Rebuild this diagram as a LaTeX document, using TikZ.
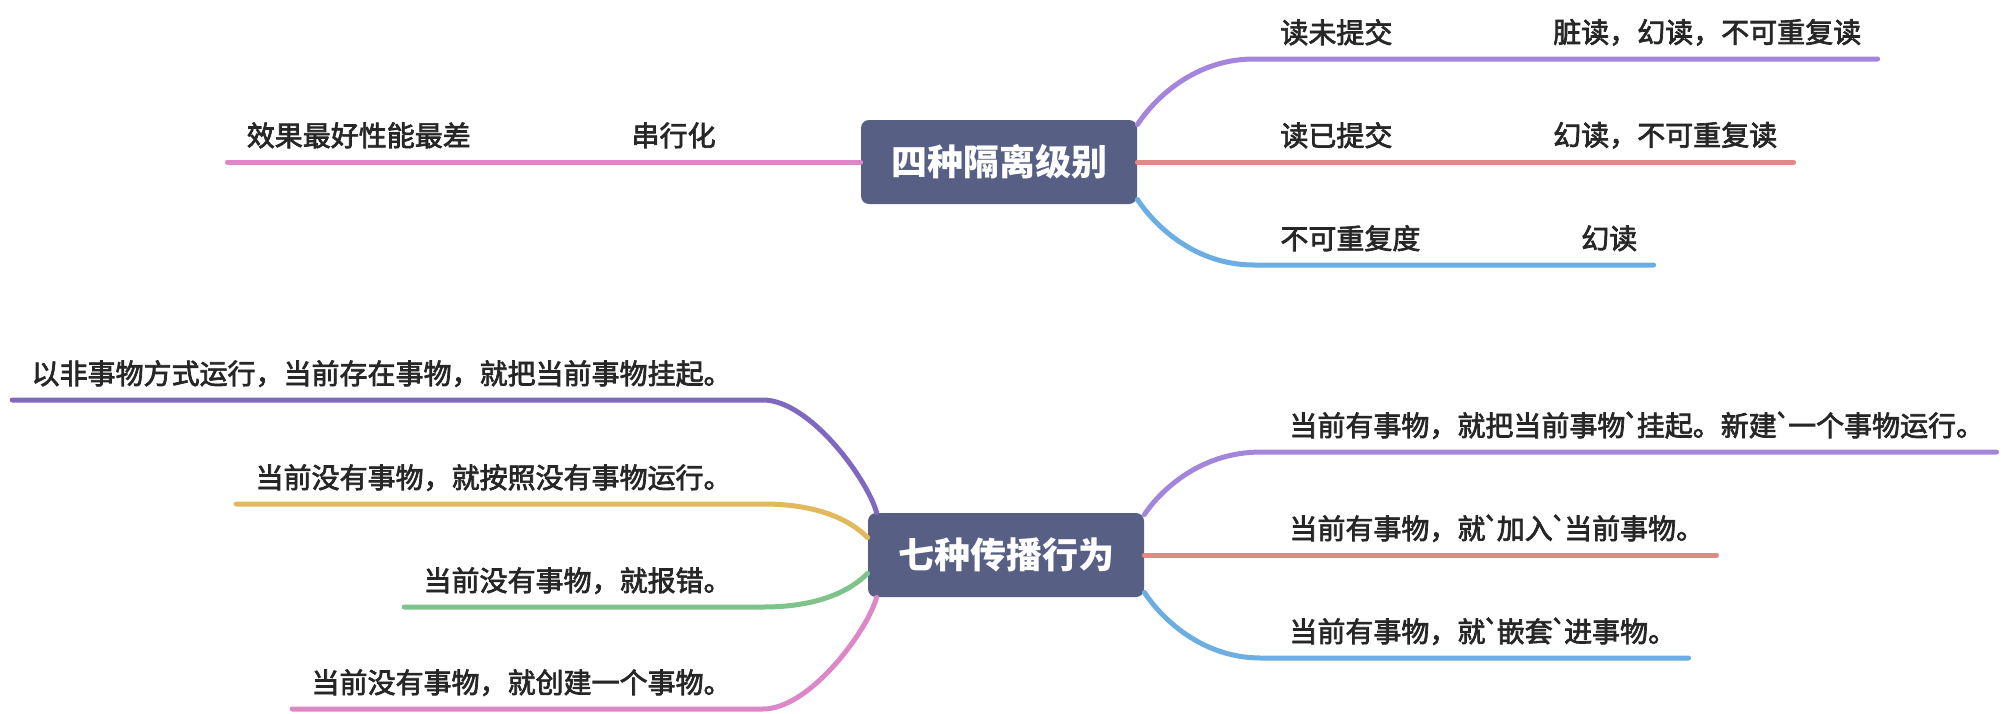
\documentclass[tikz,border=0pt]{standalone}
\usepackage{fontspec}
\setmainfont{Noto Sans CJK SC}
\newfontfamily\lblfont[FakeBold=2.5]{Noto Sans CJK SC}
\usetikzlibrary{positioning}
\definecolor{rootfill}{HTML}{575F85}
\definecolor{labeltext}{HTML}{262626}
\definecolor{brPurple}{HTML}{A385DC}
\definecolor{brRed}{HTML}{E08A87}
\definecolor{brBlue}{HTML}{6BAEE3}
\definecolor{brPink}{HTML}{DD87C8}
\definecolor{brViolet}{HTML}{7F68BF}
\definecolor{brYellow}{HTML}{E1B85C}
\definecolor{brGreen}{HTML}{7DC38A}
\newcommand{\bq}{\kern-0.1em\textasciigrave\kern-0.1em}
\begin{document}
\begin{tikzpicture}[x=0.5pt, y=-0.5pt,
  root/.style={fill=rootfill, rounded corners=4pt, minimum width=138pt, minimum height=42pt,
    text=white, font=\fontsize{18}{20}\selectfont\bfseries},
  lbl/.style={inner sep=0pt, text=labeltext, font=\fontsize{14}{16}\selectfont\lblfont},
  branch/.style={line width=2.5pt, line cap=round},
  node distance=80pt]
  \useasboundingbox (0,0) rectangle (2002,713);
  % isolation levels
  \node[root] (iso) at (999,162) {四种隔离级别};
  \node[lbl, anchor=base west] (ru) at (1280,43) {读未提交};
  \node[lbl, right=of ru] (ruN) {脏读，幻读，不可重复读};
  \node[lbl, anchor=base west] (rc) at (1280,146) {读已提交};
  \node[lbl, right=of rc] (rcN) {幻读，不可重复读};
  \node[lbl, anchor=base west] (nr) at (1280,249) {不可重复度};
  \node[lbl, right=of nr] (nrN) {幻读};
  \node[lbl, anchor=base east] (sr) at (716,146) {串行化};
  \node[lbl, left=of sr] (srN) {效果最好性能最差};
  \coordinate (ruS) at (1254,59);
  \coordinate (nrS) at (1254,265);
  \draw[branch, brPurple] ([yshift=-2.5pt]iso.north east) .. controls +(13,-20) and +(-64,0) .. (ruS) -- ([xshift=8pt]ruN.east |- ruS);
  \draw[branch, brRed] (iso.east) -- ([xshift=8pt]rcN.east |- iso.east);
  \draw[branch, brBlue] ([yshift=2.5pt]iso.south east) .. controls +(13,20) and +(-64,0) .. (nrS) -- ([xshift=8pt]nrN.east |- nrS);
  \draw[branch, brPink] (iso.west) -- ([xshift=-9.5pt]srN.west |- iso.west);
  % propagation
  \node[root] (prop) at (1006,555) {七种传播行为};
  \node[lbl, anchor=base west] (rqn) at (1289,436) {当前有事物，就把当前事物\bq 挂起。新建\bq 一个事物运行。};
  \node[lbl, anchor=base west] (req) at (1289,539) {当前有事物，就\bq 加入\bq 当前事物。};
  \node[lbl, anchor=base west] (nst) at (1289,642) {当前有事物，就\bq 嵌套\bq 进事物。};
  \node[lbl, anchor=base east] (nsp) at (732,384) {以非事物方式运行，当前存在事物，就把当前事物挂起。};
  \node[lbl, anchor=base east] (sup) at (732,488) {当前没有事物，就按照没有事物运行。};
  \node[lbl, anchor=base east] (mnd) at (732,591) {当前没有事物，就报错。};
  \node[lbl, anchor=base east] (new) at (732,693) {当前没有事物，就创建一个事物。};
  \coordinate (rqnS) at (1261,452);
  \coordinate (nstS) at (1261,658);
  \coordinate (nspS) at (763,400);
  \coordinate (supS) at (763,504);
  \coordinate (mndS) at (763,607);
  \coordinate (newS) at (763,709);
  \draw[branch, brPurple] ([yshift=-1pt]prop.north east) .. controls +(13,-20) and +(-64,0) .. (rqnS) -- ([xshift=6pt]rqn.east |- rqnS);
  \draw[branch, brRed] (prop.east) -- ([xshift=6pt]req.east |- prop.east);
  \draw[branch, brBlue] ([yshift=2.5pt]prop.south east) .. controls +(13,20) and +(-64,0) .. (nstS) -- ([xshift=6pt]nst.east |- nstS);
  \draw[branch, brViolet] ([xshift=4.5pt]prop.north west) .. controls +(-9,-33) and +(47,0) .. (nspS) -- ([xshift=-9.5pt]nsp.west |- nspS);
  \draw[branch, brYellow] ([yshift=-12.5pt]prop.north west) .. controls +(-25,-25) and +(40,0) .. (supS) -- ([xshift=-9.5pt]sup.west |- supS);
  \draw[branch, brGreen] ([yshift=12pt]prop.south west) .. controls +(-25,25) and +(40,0) .. (mndS) -- ([xshift=-9.5pt]mnd.west |- mndS);
  \draw[branch, brPink] ([xshift=4.5pt]prop.south west) .. controls +(-9,33) and +(47,0) .. (newS) -- ([xshift=-9.5pt]new.west |- newS);
\end{tikzpicture}
\end{document}
